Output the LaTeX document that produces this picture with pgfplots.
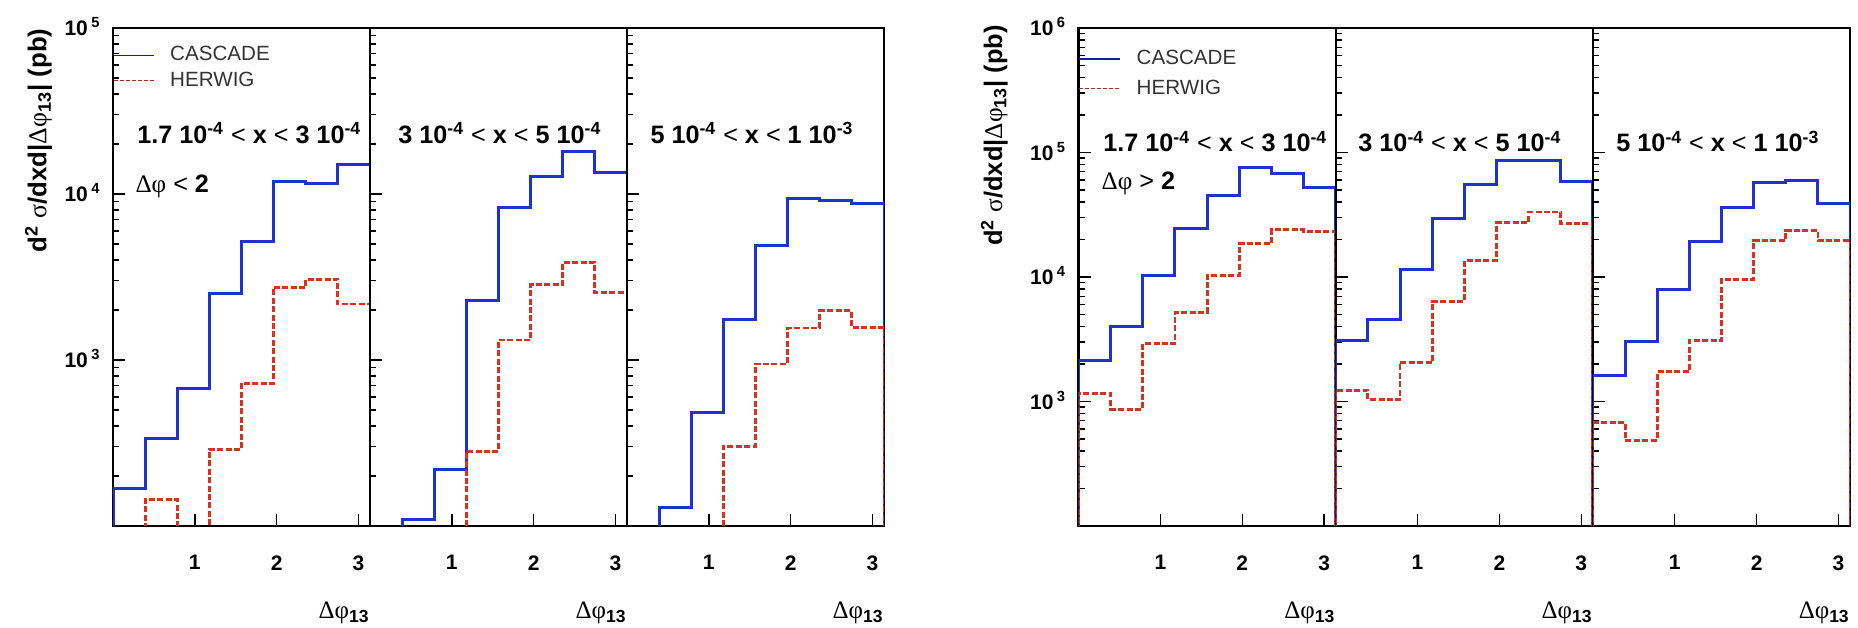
\documentclass[border=0pt]{standalone}
\usepackage{fontspec}
\setmainfont{Liberation Sans}
\newfontfamily\seriffont{Liberation Serif}
\usepackage{pgfplots}
\pgfplotsset{compat=1.18}
\definecolor{casblue}{RGB}{30,50,205}
\definecolor{herred}{RGB}{215,50,30}
\newcommand{\tl}[1]{\textbf{10\,\textsuperscript{#1}}}
\newcommand{\dphi}{{\seriffont\mdseries Δφ}}
\newcommand{\slt}{{\mdseries <}}
\newcommand{\sgt}{{\mdseries >}}
\tikzset{myLab/.style={anchor=base west, inner sep=0pt, font=\fontsize{12.6}{14}\selectfont\bfseries}}

\begin{document}
\begin{tikzpicture}
\useasboundingbox (0,0) rectangle (929pt,313.5pt);

% ---------------- left group ----------------
\begin{axis}[at={(56.5pt,50.5pt)}, anchor=south west,
  scale only axis, width=128.5pt, height=249pt,
  xmin=0, xmax=3.14159, ymode=log, ymin=100, ymax=100000,
  axis line style={line width=1.2pt},
  tick style={line width=0.7pt, black},
  major tick length=6pt, minor tick length=3pt,
  tick align=inside, xtick pos=bottom, ytick pos=left,
  xtick={1,2,3}, xticklabels={\textbf{1},\textbf{2},\textbf{3}},
  xticklabel style={font=\fontsize{10.5}{12}\selectfont, inner sep=0pt, anchor=north, yshift=-14.5pt},
  yticklabel style={font=\fontsize{10.5}{12}\selectfont, inner sep=0pt, anchor=base east, xshift=-6pt, yshift=-3.8pt},
  xlabel={\dphi\textsubscript{\bfseries 13}},
  xlabel style={at={(axis description cs:1,-0.186)}, anchor=base east, inner sep=0pt, font=\fontsize{12.5}{14}\selectfont},
  ytick={100,1000,10000,100000},
  minor ytick={200,300,400,500,600,700,800,900,2000,3000,4000,5000,6000,7000,8000,9000,20000,30000,40000,50000,60000,70000,80000,90000},
  yticklabels={,\tl{3},\tl{4},\tl{5}},
  ylabel={\textbf{d\textsuperscript{2} {\seriffont\mdseries σ}/dxd|\dphi\textsubscript{13}| (pb)}},
  ylabel style={at={(axis description cs:-0.259,1)}, anchor=base east, inner sep=0pt, font=\fontsize{12.9}{15}\selectfont},
  legend image code/.code={\draw[#1] (0pt,0pt) -- (20pt,0pt);},
  legend style={draw=none, fill=none, inner sep=0pt, outer sep=0pt, at={(0,0.971)}, anchor=north west, row sep=0pt, column sep=6pt, font=\fontsize{10.3}{12}\selectfont, text=black!80},
  legend cell align=left]
\addlegendimage{casblue!70!black, line width=0.6pt}
\addlegendentry{CASCADE}
\addlegendimage{herred!80!black, line width=0.6pt, dash pattern=on 2pt off 1pt}
\addlegendentry{HERWIG}
\addplot[casblue, line width=1.5pt, const plot mark left, mark=none, forget plot] coordinates {(0,1) (0,169) (0.3927,335) (0.7854,678) (1.1781,2525) (1.5708,5197) (1.9635,11940) (2.3562,11610) (2.7489,14990) (3.1416,1)};
\addplot[herred, line width=1.45pt, dash pattern=on 3pt off 1.2pt, const plot mark left, mark=none, forget plot] coordinates {(0,1) (0,10) (0.3927,145) (0.7854,10) (1.1781,290) (1.5708,725) (1.9635,2745) (2.3562,3068) (2.7489,2175) (3.1416,1)};
\node[myLab] at (axis description cs:0.093,0.769) {1.7 10\textsuperscript{-4} \slt{} x \slt{} 3 10\textsuperscript{-4}};
\node[myLab] at (axis description cs:0.086,0.669) {\dphi{} \slt{} 2};
\end{axis}

\begin{axis}[at={(185pt,50.5pt)}, anchor=south west,
  scale only axis, width=128.5pt, height=249pt,
  xmin=0, xmax=3.14159, ymode=log, ymin=100, ymax=100000,
  axis line style={line width=1.2pt},
  tick style={line width=0.7pt, black},
  major tick length=6pt, minor tick length=3pt,
  tick align=inside, xtick pos=bottom, ytick pos=left,
  xtick={1,2,3}, xticklabels={\textbf{1},\textbf{2},\textbf{3}},
  xticklabel style={font=\fontsize{10.5}{12}\selectfont, inner sep=0pt, anchor=north, yshift=-14.5pt},
  xlabel={\dphi\textsubscript{\bfseries 13}},
  xlabel style={at={(axis description cs:1,-0.186)}, anchor=base east, inner sep=0pt, font=\fontsize{12.5}{14}\selectfont},
  ytick={100,1000,10000,100000},
  minor ytick={200,300,400,500,600,700,800,900,2000,3000,4000,5000,6000,7000,8000,9000,20000,30000,40000,50000,60000,70000,80000,90000},
  yticklabels={}]
\addplot[casblue, line width=1.5pt, const plot mark left, mark=none] coordinates {(0,1) (0,10) (0.3927,109) (0.7854,220) (1.1781,2273) (1.5708,8325) (1.9635,12700) (2.3562,17910) (2.7489,13420) (3.1416,1)};
\addplot[herred, line width=1.45pt, dash pattern=on 3pt off 1.2pt, const plot mark left, mark=none] coordinates {(0,1) (0,10) (0.3927,10) (0.7854,10) (1.1781,282) (1.5708,1320) (1.9635,2838) (2.3562,3871) (2.7489,2540) (3.1416,1)};
\node[myLab] at (axis description cs:0.109,0.769) {3 10\textsuperscript{-4} \slt{} x \slt{} 5 10\textsuperscript{-4}};
\end{axis}

\begin{axis}[at={(313.5pt,50.5pt)}, anchor=south west,
  scale only axis, width=128.5pt, height=249pt,
  xmin=0, xmax=3.14159, ymode=log, ymin=100, ymax=100000,
  axis line style={line width=1.2pt},
  tick style={line width=0.7pt, black},
  major tick length=6pt, minor tick length=3pt,
  tick align=inside, xtick pos=bottom, ytick pos=left,
  xtick={1,2,3}, xticklabels={\textbf{1},\textbf{2},\textbf{3}},
  xticklabel style={font=\fontsize{10.5}{12}\selectfont, inner sep=0pt, anchor=north, yshift=-14.5pt},
  xlabel={\dphi\textsubscript{\bfseries 13}},
  xlabel style={at={(axis description cs:1,-0.186)}, anchor=base east, inner sep=0pt, font=\fontsize{12.5}{14}\selectfont},
  ytick={100,1000,10000,100000},
  minor ytick={200,300,400,500,600,700,800,900,2000,3000,4000,5000,6000,7000,8000,9000,20000,30000,40000,50000,60000,70000,80000,90000},
  yticklabels={}]
\addplot[casblue, line width=1.5pt, const plot mark left, mark=none] coordinates {(0,1) (0,10) (0.3927,130) (0.7854,481) (1.1781,1762) (1.5708,4916) (1.9635,9460) (2.3562,9100) (2.7489,8800) (3.1416,1)};
\addplot[herred, line width=1.45pt, dash pattern=on 3pt off 1.2pt, const plot mark left, mark=none] coordinates {(0,1) (0,10) (0.3927,10) (0.7854,10) (1.1781,303) (1.5708,946) (1.9635,1558) (2.3562,1979) (2.7489,1577) (3.1416,1)};
\node[myLab] at (axis description cs:0.09,0.769) {5 10\textsuperscript{-4} \slt{} x \slt{} 1 10\textsuperscript{-3}};
\end{axis}

% ---------------- right group ----------------
\begin{axis}[at={(539.25pt,50.5pt)}, anchor=south west,
  scale only axis, width=128.6pt, height=249pt,
  xmin=0, xmax=3.14159, ymode=log, ymin=100, ymax=1000000,
  axis line style={line width=1.2pt},
  tick style={line width=0.7pt, black},
  major tick length=6pt, minor tick length=3pt,
  tick align=inside, xtick pos=bottom, ytick pos=left,
  xtick={1,2,3}, xticklabels={\textbf{1},\textbf{2},\textbf{3}},
  xticklabel style={font=\fontsize{10.5}{12}\selectfont, inner sep=0pt, anchor=north, yshift=-14.5pt},
  yticklabel style={font=\fontsize{10.5}{12}\selectfont, inner sep=0pt, anchor=base east, xshift=-6pt, yshift=-3.8pt},
  xlabel={\dphi\textsubscript{\bfseries 13}},
  xlabel style={at={(axis description cs:1,-0.186)}, anchor=base east, inner sep=0pt, font=\fontsize{12.5}{14}\selectfont},
  ytick={100,1000,10000,100000,1000000},
  minor ytick={200,300,400,500,600,700,800,900,2000,3000,4000,5000,6000,7000,8000,9000,20000,30000,40000,50000,60000,70000,80000,90000,200000,300000,400000,500000,600000,700000,800000,900000},
  yticklabels={,\tl{3},\tl{4},\tl{5},\tl{6}},
  ylabel={\textbf{d\textsuperscript{2} {\seriffont\mdseries σ}/dxd|\dphi\textsubscript{13}| (pb)}},
  ylabel style={at={(axis description cs:-0.297,1.006)}, anchor=base east, inner sep=0pt, font=\fontsize{12.7}{15}\selectfont},
  legend image code/.code={\draw[#1] (0pt,0pt) -- (20.5pt,0pt);},
  legend style={draw=none, fill=none, inner sep=0pt, outer sep=0pt, at={(0,0.963)}, anchor=north west, row sep=2pt, column sep=6pt, font=\fontsize{10.3}{12}\selectfont, text=black!80},
  legend cell align=left]
\addlegendimage{casblue!70!black, line width=0.6pt}
\addlegendentry{CASCADE}
\addlegendimage{herred!80!black, line width=0.6pt, dash pattern=on 2pt off 1pt}
\addlegendentry{HERWIG}
\addplot[casblue, line width=1.5pt, const plot mark left, mark=none, forget plot] coordinates {(0,1) (0,2138) (0.3927,4008) (0.7854,10230) (1.1781,24420) (1.5708,45070) (1.9635,76100) (2.3562,67600) (2.7489,52240) (3.1416,1)};
\addplot[herred, line width=1.45pt, dash pattern=on 3pt off 1.2pt, const plot mark left, mark=none, forget plot] coordinates {(0,1) (0,1159) (0.3927,869) (0.7854,2916) (1.1781,5185) (1.5708,10300) (1.9635,18450) (2.3562,23900) (2.7489,23030) (3.1416,1)};
\node[myLab] at (axis description cs:0.095,0.751) {1.7 10\textsuperscript{-4} \slt{} x \slt{} 3 10\textsuperscript{-4}};
\node[myLab] at (axis description cs:0.088,0.675) {\dphi{} \sgt{} 2};
\end{axis}

\begin{axis}[at={(667.85pt,50.5pt)}, anchor=south west,
  scale only axis, width=128.6pt, height=249pt,
  xmin=0, xmax=3.14159, ymode=log, ymin=100, ymax=1000000,
  axis line style={line width=1.2pt},
  tick style={line width=0.7pt, black},
  major tick length=6pt, minor tick length=3pt,
  tick align=inside, xtick pos=bottom, ytick pos=left,
  xtick={1,2,3}, xticklabels={\textbf{1},\textbf{2},\textbf{3}},
  xticklabel style={font=\fontsize{10.5}{12}\selectfont, inner sep=0pt, anchor=north, yshift=-14.5pt},
  xlabel={\dphi\textsubscript{\bfseries 13}},
  xlabel style={at={(axis description cs:1,-0.186)}, anchor=base east, inner sep=0pt, font=\fontsize{12.5}{14}\selectfont},
  ytick={100,1000,10000,100000,1000000},
  minor ytick={200,300,400,500,600,700,800,900,2000,3000,4000,5000,6000,7000,8000,9000,20000,30000,40000,50000,60000,70000,80000,90000,200000,300000,400000,500000,600000,700000,800000,900000},
  yticklabels={}]
\addplot[casblue, line width=1.5pt, const plot mark left, mark=none] coordinates {(0,1) (0,3093) (0.3927,4575) (0.7854,11510) (1.1781,29380) (1.5708,55000) (1.9635,86900) (2.3562,85700) (2.7489,58360) (3.1416,1)};
\addplot[herred, line width=1.45pt, dash pattern=on 3pt off 1.2pt, const plot mark left, mark=none] coordinates {(0,1) (0,1230) (0.3927,1038) (0.7854,2061) (1.1781,6327) (1.5708,13530) (1.9635,27290) (2.3562,33290) (2.7489,26680) (3.1416,1)};
\node[myLab] at (axis description cs:0.087,0.751) {3 10\textsuperscript{-4} \slt{} x \slt{} 5 10\textsuperscript{-4}};
\end{axis}

\begin{axis}[at={(796.45pt,50.5pt)}, anchor=south west,
  scale only axis, width=128.6pt, height=249pt,
  xmin=0, xmax=3.14159, ymode=log, ymin=100, ymax=1000000,
  axis line style={line width=1.2pt},
  tick style={line width=0.7pt, black},
  major tick length=6pt, minor tick length=3pt,
  tick align=inside, xtick pos=bottom, ytick pos=left,
  xtick={1,2,3}, xticklabels={\textbf{1},\textbf{2},\textbf{3}},
  xticklabel style={font=\fontsize{10.5}{12}\selectfont, inner sep=0pt, anchor=north, yshift=-14.5pt},
  xlabel={\dphi\textsubscript{\bfseries 13}},
  xlabel style={at={(axis description cs:1,-0.186)}, anchor=base east, inner sep=0pt, font=\fontsize{12.5}{14}\selectfont},
  ytick={100,1000,10000,100000,1000000},
  minor ytick={200,300,400,500,600,700,800,900,2000,3000,4000,5000,6000,7000,8000,9000,20000,30000,40000,50000,60000,70000,80000,90000,200000,300000,400000,500000,600000,700000,800000,900000},
  yticklabels={}]
\addplot[casblue, line width=1.5pt, const plot mark left, mark=none] coordinates {(0,1) (0,1616) (0.3927,3048) (0.7854,7892) (1.1781,19140) (1.5708,36110) (1.9635,57080) (2.3562,59210) (2.7489,38610) (3.1416,1)};
\addplot[herred, line width=1.45pt, dash pattern=on 3pt off 1.2pt, const plot mark left, mark=none] coordinates {(0,1) (0,681) (0.3927,489) (0.7854,1739) (1.1781,3093) (1.5708,9570) (1.9635,19570) (2.3562,23550) (2.7489,19570) (3.1416,1)};
\node[myLab] at (axis description cs:0.09,0.751) {5 10\textsuperscript{-4} \slt{} x \slt{} 1 10\textsuperscript{-3}};
\end{axis}
\end{tikzpicture}
\end{document}
